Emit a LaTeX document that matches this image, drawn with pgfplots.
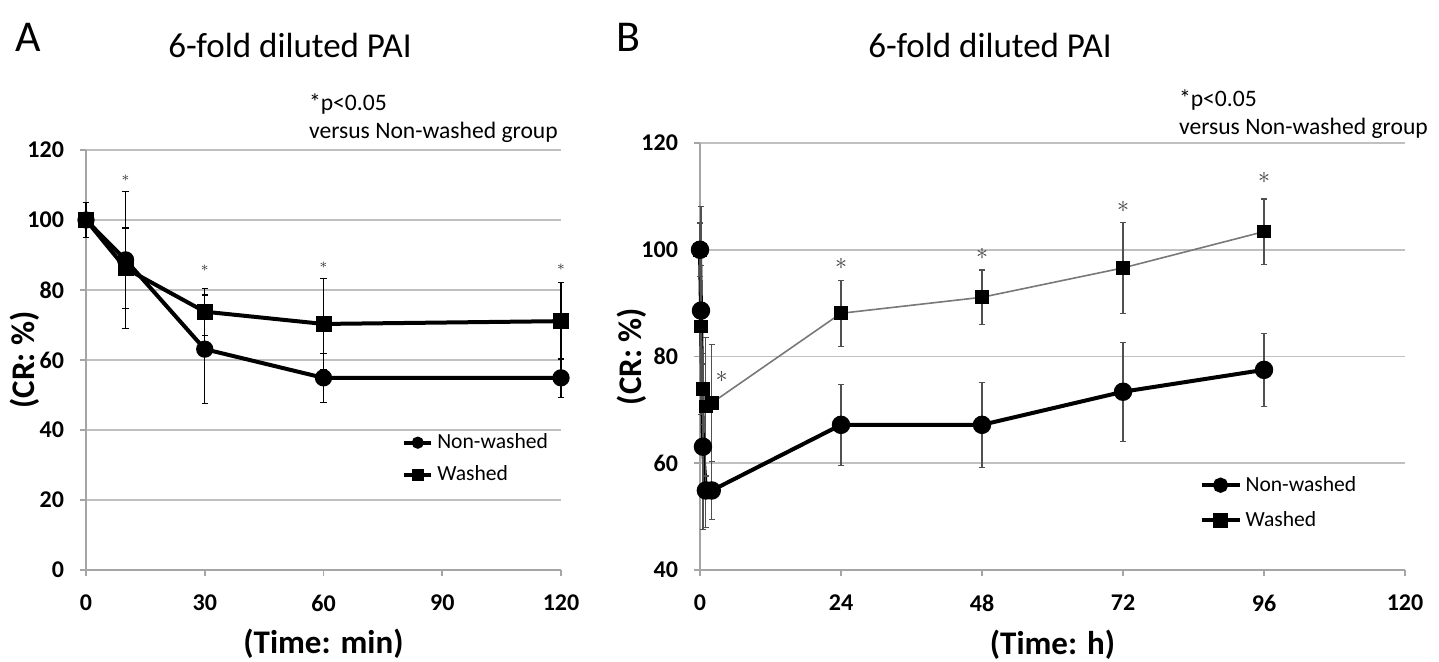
\documentclass[border=0pt]{standalone}
\usepackage{fontspec}
\setmainfont{Carlito}
\usepackage{pgfplots}
\usepackage{pgfplotstable}
\pgfplotsset{compat=1.18}

\definecolor{gridgray}{RGB}{192,192,192}
\definecolor{axisgray}{RGB}{165,165,165}
\definecolor{errgray}{RGB}{80,80,80}
\definecolor{washgray}{RGB}{120,120,120}

\pgfplotstableread{
x y e
0 100 5
10 88.6 19.5
30 63.1 15.5
60 54.9 7
120 54.9 5.5
}\Anon
\pgfplotstableread{
x y e
0 100 5
10 86.2 11.5
30 73.8 6.7
60 70.3 13
120 71.1 11
}\Awash
\pgfplotstableread{
x y e
0 100 5
0.1667 88.6 19.5
0.5 63.1 15.5
1 54.9 7
2 54.9 5.5
24 67.2 7.6
48 67.2 8
72 73.4 9.3
96 77.5 6.8
}\Bnon
\pgfplotstableread{
x y e
0 100 5
0.1667 85.6 11.5
0.5 73.9 6.7
1 70.6 13
2 71.3 11
24 88.1 6.2
48 91.1 5.1
72 96.6 8.5
96 103.4 6.1
}\Bwash

\pgfplotsset{
 panel/.style={
  scale only axis,
  anchor=south west,
  axis lines*=left,
  axis line style={axisgray, line width=0.9pt},
  tick align=outside,
  major tick length=3pt,
  tick style={axisgray, line width=0.9pt},
  ymajorgrids,
  grid style={gridgray, line width=0.9pt},
  ticklabel style={font=\fontsize{12}{14}\selectfont\bfseries},
  yticklabel style={xshift=-4.5pt},
  xticklabel style={yshift=-6pt},
  /pgf/number format/assume math mode=true,
  clip=false,
  label style={font=\fontsize{16.5}{18}\selectfont\bfseries},
  legend style={draw=none, fill=none, inner sep=0pt, row sep=3pt,
    font=\fontsize{10.8}{12}\selectfont, cells={anchor=west}},
 }
}

\begin{document}
\begin{tikzpicture}[x=1pt,y=1pt]
\useasboundingbox (0,0) rectangle (719.5,-331);

% ---------- Panel A ----------
\begin{axis}[panel, at={(43pt,-285pt)}, width=237.5pt, height=210pt,
  xmin=0, xmax=120, ymin=0, ymax=120,
  xtick={0,30,60,90,120}, ytick={0,20,...,120},
  xlabel={(Time: min)}, ylabel={(CR: \%)},
  xlabel style={at={(axis description cs:0.5,-0.175)}, anchor=center},
  ylabel style={at={(axis description cs:-0.128,0.5)}, anchor=center},
  legend style={at={(axis description cs:0.665,0.335)}, anchor=north west},
  legend image code/.code={\draw[mark repeat=2,mark phase=2,#1,mark size=2pt]
     plot coordinates {(0pt,0pt) (6.75pt,0pt) (13.5pt,0pt)};},
]
\addplot[black, line width=2pt, mark=*, mark size=3.3pt, mark options={solid},
  error bars/.cd, y dir=both, y explicit,
  error bar style={black, line width=0.6pt},
  error mark options={rotate=90, mark size=1.6pt, black, line width=0.6pt}]
  table[x=x, y=y, y error=e] {\Anon};
\addlegendentry{Non-washed}
\addplot[black, line width=2pt, mark=square*, mark size=3pt, mark options={solid},
  error bars/.cd, y dir=both, y explicit,
  error bar style={black, line width=0.6pt},
  error mark options={rotate=90, mark size=1.6pt, black, line width=0.6pt}]
  table[x=x, y=y, y error=e] {\Awash};
\addlegendentry{Washed}
\node[text=black!80] at (axis cs:10,112) {\fontsize{7}{7}\selectfont$\ast$};
\node[text=black!80] at (axis cs:30,86.2) {\fontsize{7}{7}\selectfont$\ast$};
\node[text=black!80] at (axis cs:60,87.1) {\fontsize{7}{7}\selectfont$\ast$};
\node[text=black!80] at (axis cs:120,86.5) {\fontsize{7}{7}\selectfont$\ast$};
\end{axis}

% ---------- Panel B ----------
\begin{axis}[panel, at={(350pt,-285pt)}, width=352.5pt, height=213.5pt,
  xmin=0, xmax=120, ymin=40, ymax=120,
  xtick={0,24,48,72,96,120}, ytick={40,60,...,120},
  xlabel={(Time: h)}, ylabel={(CR: \%)},
  xlabel style={at={(axis description cs:0.5,-0.175)}, anchor=center},
  ylabel style={at={(axis description cs:-0.0965,0.5)}, anchor=center},
  legend style={at={(axis description cs:0.708,0.23)}, anchor=north west, row sep=4.5pt},
  legend image code/.code={\draw[mark repeat=2,mark phase=2,#1,mark size=2.8pt]
     plot coordinates {(0pt,0pt) (9.5pt,0pt) (19pt,0pt)};},
]
\addplot[black, line width=2pt, mark=*, mark size=3.6pt, mark options={solid}, forget plot,
  error bars/.cd, y dir=both, y explicit,
  error bar style={errgray, line width=0.6pt},
  error mark options={rotate=90, mark size=1.6pt, errgray, line width=0.6pt}]
  table[x=x, y=y, y error=e] {\Bnon};
\addplot[washgray, line width=0.8pt, mark=square*, mark size=3pt, mark options={solid, black, fill=black}, forget plot,
  error bars/.cd, y dir=both, y explicit,
  error bar style={errgray, line width=0.6pt},
  error mark options={rotate=90, mark size=1.6pt, errgray, line width=0.6pt}]
  table[x=x, y=y, y error=e] {\Bwash};
\addlegendimage{black, line width=2pt, mark=*, mark options={solid}}
\addlegendentry{Non-washed}
\addlegendimage{black, line width=2pt, mark=square*, mark options={solid}}
\addlegendentry{Washed}
\node[text=black!75] at (axis cs:3.7,76.2) {\fontsize{12}{12}\selectfont$\ast$};
\node[text=black!75] at (axis cs:24,97.3) {\fontsize{12}{12}\selectfont$\ast$};
\node[text=black!75] at (axis cs:48,99.3) {\fontsize{12}{12}\selectfont$\ast$};
\node[text=black!75] at (axis cs:72,108) {\fontsize{12}{12}\selectfont$\ast$};
\node[text=black!75] at (axis cs:96,113.4) {\fontsize{12}{12}\selectfont$\ast$};
\end{axis}

% ---------- Texts ----------
\node[font=\fontsize{22}{24}\selectfont] at (14,-18.5) {A};
\node[font=\fontsize{22}{24}\selectfont] at (314,-18.5) {B};
\node[font=\fontsize{17.5}{20}\selectfont] at (145,-22.5) {6-fold diluted PAI};
\node[font=\fontsize{17.5}{20}\selectfont] at (495,-22.5) {6-fold diluted PAI};
\node[anchor=west, font=\fontsize{11.8}{13}\selectfont] at (151,-52) {*p<0.05};
\node[anchor=west, font=\fontsize{11.8}{13}\selectfont] at (151,-66) {versus Non-washed group};
\node[anchor=west, font=\fontsize{11.8}{13}\selectfont] at (586,-50) {*p<0.05};
\node[anchor=west, font=\fontsize{11.8}{13}\selectfont] at (586,-64) {versus Non-washed group};
\end{tikzpicture}
\end{document}
